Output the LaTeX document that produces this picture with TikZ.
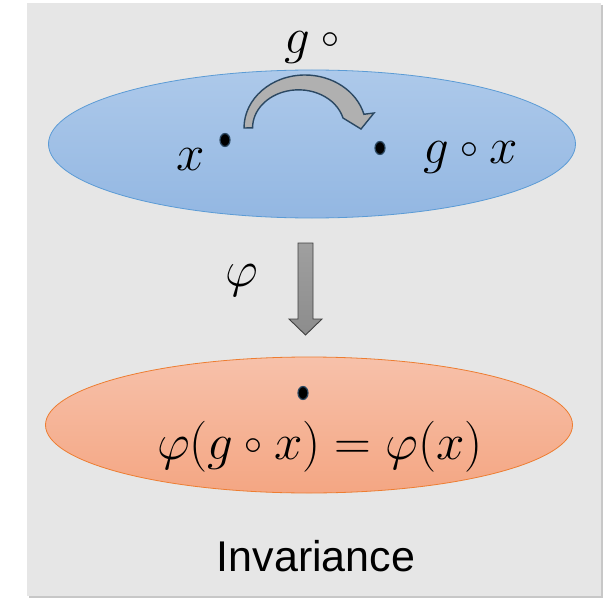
\documentclass[tikz,border=0pt]{standalone}
\usepackage{fix-cm}
\usepackage{fontspec}
\newfontfamily\labelfont{Liberation Sans}
\usetikzlibrary{shapes.geometric}
\definecolor{panelgray}{HTML}{E6E6E6}
\definecolor{bluetop}{HTML}{ADC9EA}
\definecolor{bluebot}{HTML}{93B7E2}
\definecolor{blueline}{HTML}{5B9BD5}
\definecolor{orangetop}{HTML}{F7C1AA}
\definecolor{orangebot}{HTML}{F4A683}
\definecolor{orangeline}{HTML}{ED7D31}
\definecolor{slate}{HTML}{2B4862}
\newcommand{\comp}{\mathbin{\vcenter{\hbox{$\scriptstyle\circ$}}}}
\begin{document}
\begin{tikzpicture}[x=1pt, y=-1pt,
  space/.style={ellipse, inner sep=0pt, minimum width=527pt, minimum height=148pt},
  dot/.style={ellipse, fill=black, draw=slate, line width=1.2pt, inner sep=0pt, minimum width=10pt, minimum height=13pt},
  lbl/.style={inner sep=0pt, font=\fontsize{51}{58}\selectfont},
  blockarrow/.style={draw=slate, line width=1.4pt, fill=gray!62, line join=miter}]
  % background panel with a soft shadow
  \useasboundingbox (0,0) rectangle (610,599);
  \fill[black!22] (29,5) rectangle (603,598);
  \fill[panelgray] (27,3) rectangle (601,596);
  % the two spaces
  \node[space, top color=bluetop, bottom color=bluebot, draw=blueline, line width=0.8pt] (input) at (312,144) {};
  \node[space, top color=orangetop, bottom color=orangebot, draw=orangeline, line width=0.8pt, minimum height=136pt] (output) at (309,425) {};
  % points
  \node[dot] (x) at (225,140) {};
  \node[dot] (gx) at (380,148) {};
  \node[dot] (phix) at (303,393) {};
  % labels
  \node[lbl] (xlab) at (191,160) {$x$};
  \node[lbl] (gxlab) at (471,157) {$g\comp x$};
  \node[lbl] (act) at (318,47) {$g\comp{}$};
  \node[lbl] (philab) at (242,280) {$\varphi$};
  \node[lbl] (eq) at (320,447) {$\varphi(g\comp x)=\varphi(x)$};
  \node[inner sep=0pt, font=\labelfont\fontsize{43}{50}\selectfont] (title) at (316,556) {Invariance};
  % group action arrow
  \draw[blockarrow] (244,128) arc[start angle=180, end angle=345, x radius=61, y radius=53]
    -- (374,113) -- (361,129) -- (343,118)
    arc[start angle=345, end angle=180, x radius=46, y radius=38] -- cycle;
  % map arrow
  \shade[top color=gray!75, bottom color=gray!110!black, draw=black!75, line width=0.9pt]
    (298,243) -- (313,243) -- (313,319) -- (322,319) -- (305.5,335) -- (289,319) -- (298,319) -- cycle;
\end{tikzpicture}
\end{document}
